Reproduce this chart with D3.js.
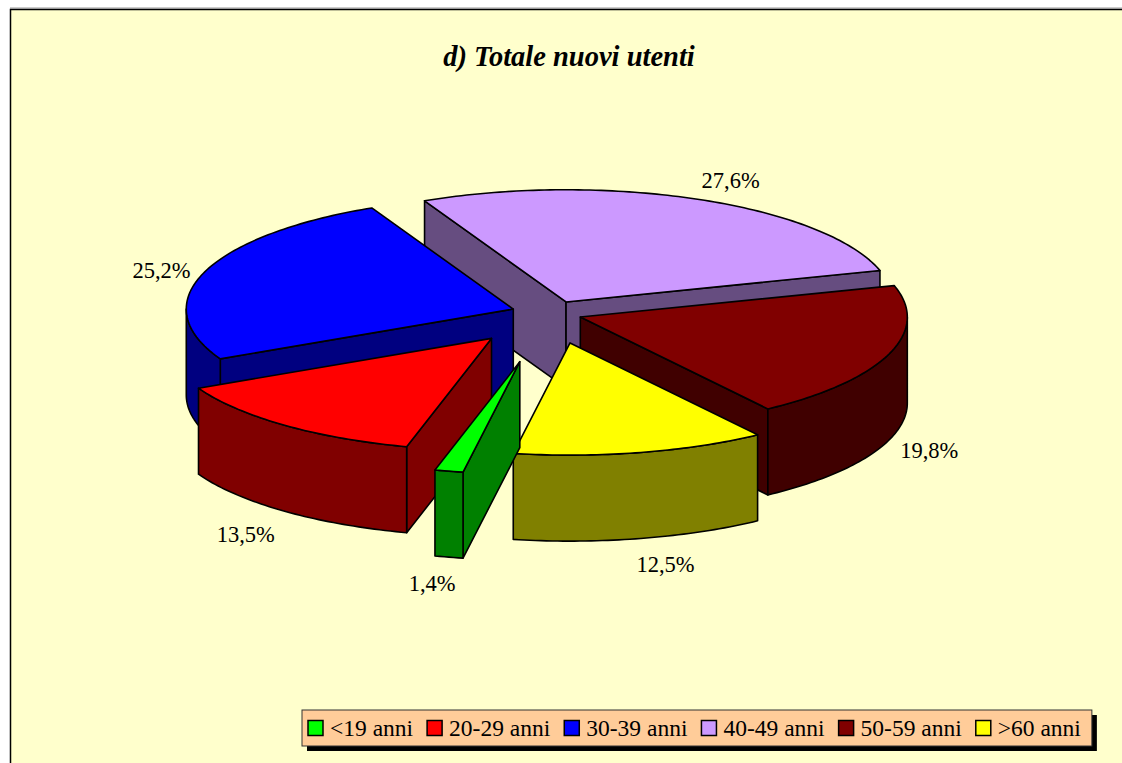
<!DOCTYPE html>
<html>
<head>
<meta charset="utf-8">
<script src="https://cdn.jsdelivr.net/npm/d3@7"></script>
<style>
  body { margin: 0; background: #fff; }
  text { font-family: "Liberation Serif", "Times New Roman", serif; }
</style>
</head>
<body>
<script>
// data
var categories = ["<19 anni", "20-29 anni", "30-39 anni", "40-49 anni", "50-59 anni", ">60 anni"];
var values = [1.4, 13.5, 25.2, 27.6, 19.8, 12.5];
var colors = ["#00FF00", "#FF0000", "#0000FF", "#CC99FF", "#800000", "#FFFF00"];
var title = "d) Totale nuovi utenti";

// layout of the 3d pie
var W = 1122, H = 763;
var center = [551, 313.5];
var R = 327;      // horizontal radius
var K = 0.343;    // vertical squash of the ellipse
var D = 86;       // thickness
var explode = [0.44, 0.287, 0.122, 0.113, 0.095, 0.269]; // fraction of R
var labelNudge = [[-7, 2], [-10, 4], [0, 6], [13, 3], [-2, 2], [15, 1]];

var svg = d3.select("body").append("svg")
	.attr("width", W)
	.attr("height", H);

// chart area
svg.append("line")
	.attr("x1", 10).attr("x2", W).attr("y1", 8).attr("y2", 8)
	.style("stroke", "#999").style("stroke-width", 1);
svg.append("rect")
	.attr("x", 10.5).attr("y", 9.5)
	.attr("width", W + 20).attr("height", H + 20)
	.style("fill", "#FFFFCC")
	.style("stroke", "#000")
	.style("stroke-width", 1.5);

svg.append("text")
	.attr("x", 569).attr("y", 66)
	.attr("text-anchor", "middle")
	.style("font-size", "28.5px")
	.style("font-weight", "bold")
	.style("font-style", "italic")
	.text(title);

var rad = Math.PI / 180;
var pie = d3.pie().sort(null).value(function (d) { return d; })
	.startAngle(190 * rad).endAngle(550 * rad);
var arcs = pie(values);

function pt(c, a, r, h) {
	return [c[0] + r * Math.sin(a), c[1] - r * K * Math.cos(a) + h];
}
function arcPts(c, a0, a1, h) {
	var n = Math.max(2, Math.ceil(Math.abs(a1 - a0) / rad));
	return d3.range(n + 1).map(function (i) { return pt(c, a0 + (a1 - a0) * i / n, R, h); });
}
var line = d3.line();
function shape(points) { return line(points) + "Z"; }
function shade(col) {
	var c = d3.rgb(col);
	return d3.rgb(c.r * 0.5, c.g * 0.5, c.b * 0.5).formatHex();
}

var slices = arcs.map(function (d, i) {
	var m = (d.startAngle + d.endAngle) / 2;
	var e = explode[i] * R;
	var c = [center[0] + e * Math.sin(m), center[1] - e * K * Math.cos(m)];
	return { i: i, a0: d.startAngle, a1: d.endAngle, m: m, c: c,
		depth: c[1] - 0.5 * R * K * Math.cos(m) };
});

// back to front
var order = slices.slice().sort(function (a, b) { return a.depth - b.depth; });

var pieG = svg.append("g")
	.style("stroke", "#000")
	.style("stroke-width", 1.6)
	.style("stroke-linejoin", "round");

order.forEach(function (s) {
	var g = pieG.append("g").attr("class", "slice");
	var dark = shade(colors[s.i]);
	var c = s.c;
	var cb = [c[0], c[1] + D];

	// radial side faces
	if (Math.sin(s.a0) < 0) {
		g.append("path").attr("d", shape([c, pt(c, s.a0, R, 0), pt(c, s.a0, R, D), cb]))
			.style("fill", dark);
	}
	if (Math.sin(s.a1) > 0) {
		g.append("path").attr("d", shape([c, pt(c, s.a1, R, 0), pt(c, s.a1, R, D), cb]))
			.style("fill", dark);
	}
	// outer curved face, only the part turned to the viewer
	[[90, 270], [450, 630]].forEach(function (iv) {
		var f0 = Math.max(s.a0, iv[0] * rad), f1 = Math.min(s.a1, iv[1] * rad);
		if (f1 > f0) {
			var pts = arcPts(c, f0, f1, 0).concat(arcPts(c, f1, f0, D));
			g.append("path").attr("d", shape(pts)).style("fill", dark);
		}
	});
	// top face
	g.append("path").attr("d", shape([c].concat(arcPts(c, s.a0, s.a1, 0))))
		.style("fill", colors[s.i]);
});

// percentage labels
var fmt = d3.format(".1f");
svg.append("g").selectAll("text")
	.data(slices)
	.enter().append("text")
	.attr("x", function (s) {
		var p = pt(s.c, s.m, R, 0);
		return p[0] + 45 * Math.sin(s.m) + labelNudge[s.i][0];
	})
	.attr("y", function (s) {
		var p = pt(s.c, s.m, R, Math.cos(s.m) < 0 ? D : 0);
		return p[1] - 25 * Math.cos(s.m) + labelNudge[s.i][1];
	})
	.attr("dy", "0.35em")
	.attr("text-anchor", "middle")
	.style("font-size", "22.5px")
	.text(function (s) { return fmt(values[s.i]).replace(".", ",") + "%"; });

// legend
var lx = 302, ly = 710, lh = 36;
var legend = svg.append("g");
var shadow = legend.append("rect").style("fill", "#000");
var box = legend.append("rect").style("fill", "#FFCC99").style("stroke", "#333").style("stroke-width", 1);
var x = lx + 6;
categories.forEach(function (name, i) {
	legend.append("rect")
		.attr("x", x).attr("y", ly + 10.5)
		.attr("width", 15).attr("height", 15)
		.style("fill", colors[i])
		.style("stroke", "#000")
		.style("stroke-width", 1.5);
	var t = legend.append("text")
		.attr("x", x + 22).attr("y", ly + 18)
		.attr("dy", "0.35em")
		.style("font-size", "23.5px")
		.text(name);
	x += 22 + t.node().getComputedTextLength() + 14;
});
var lw = x - 14 + 11 - lx;
box.attr("x", lx).attr("y", ly).attr("width", lw).attr("height", lh);
shadow.attr("x", lx + 5).attr("y", ly + 5).attr("width", lw).attr("height", lh);
</script>
</body>
</html>
